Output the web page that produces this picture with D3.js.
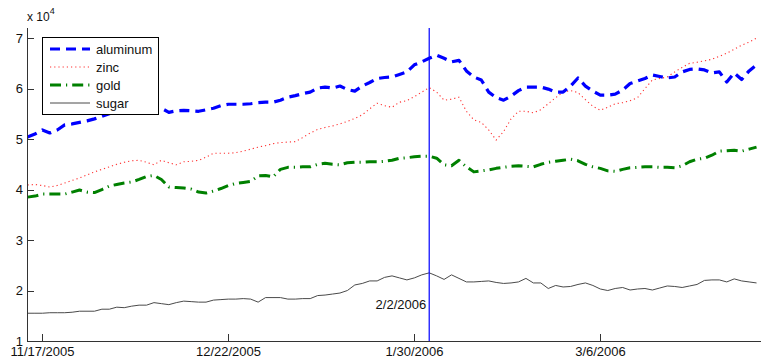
<!DOCTYPE html>
<html><head><meta charset="utf-8">
<script src="https://cdn.jsdelivr.net/npm/d3@7"></script>
<style>
body{margin:0;background:#fff;}
svg{display:block;font-family:"Liberation Sans",Arial,Helvetica,sans-serif;}
</style></head>
<body>
<svg id="chart" width="761" height="358"></svg>
<script>
// values in units of 10^4, one per trading day (index 0..98)
const aluminum = [5.04,5.10,5.18,5.12,5.18,5.28,5.30,5.33,5.36,5.40,5.45,5.50,5.55,5.60,5.62,5.64,5.65,5.63,5.61,5.53,
 5.56,5.57,5.56,5.55,5.58,5.61,5.66,5.69,5.69,5.69,5.70,5.72,5.73,5.73,5.77,5.83,5.86,5.90,5.93,6.01,
 6.03,6.01,6.05,5.98,5.95,6.05,6.12,6.20,6.22,6.23,6.28,6.33,6.47,6.53,6.60,6.66,6.60,6.53,6.56,6.35,
 6.23,6.17,5.93,5.82,5.77,5.85,5.96,6.03,6.03,6.03,5.99,5.93,5.93,6.05,6.21,6.05,5.95,5.87,5.87,5.89,
 5.97,6.10,6.15,6.20,6.27,6.24,6.21,6.23,6.33,6.38,6.39,6.37,6.31,6.33,6.13,6.31,6.18,6.35,6.47];
const zinc = [4.09,4.10,4.08,4.05,4.08,4.13,4.18,4.23,4.29,4.35,4.40,4.45,4.50,4.54,4.57,4.58,4.54,4.49,4.58,4.53,
 4.49,4.55,4.56,4.58,4.64,4.72,4.72,4.72,4.73,4.76,4.80,4.84,4.87,4.91,4.93,4.94,4.95,5.03,5.12,5.19,
 5.23,5.26,5.30,5.35,5.41,5.48,5.60,5.71,5.66,5.63,5.73,5.76,5.84,5.93,6.02,5.93,5.77,5.79,5.83,5.55,
 5.38,5.33,5.18,4.98,5.15,5.40,5.55,5.55,5.52,5.58,5.70,5.82,5.93,5.96,5.92,5.78,5.65,5.57,5.63,5.70,
 5.72,5.76,5.82,6.00,6.17,6.20,6.23,6.33,6.42,6.50,6.52,6.55,6.58,6.64,6.70,6.78,6.86,6.92,7.00];
const gold = [3.85,3.87,3.91,3.91,3.91,3.91,3.95,3.99,3.95,3.94,4.00,4.07,4.10,4.13,4.15,4.20,4.26,4.28,4.20,4.05,
 4.04,4.03,4.01,3.95,3.93,3.97,4.02,4.08,4.12,4.14,4.16,4.27,4.28,4.25,4.40,4.44,4.44,4.45,4.45,4.50,
 4.52,4.50,4.49,4.53,4.54,4.54,4.55,4.55,4.56,4.58,4.62,4.63,4.65,4.66,4.66,4.62,4.49,4.47,4.58,4.45,
 4.35,4.37,4.39,4.42,4.44,4.46,4.47,4.46,4.45,4.50,4.54,4.56,4.58,4.60,4.57,4.50,4.45,4.42,4.37,4.36,
 4.40,4.43,4.44,4.45,4.45,4.44,4.44,4.43,4.47,4.55,4.60,4.62,4.68,4.76,4.77,4.78,4.76,4.80,4.84];
const sugar = [1.55,1.55,1.55,1.56,1.56,1.56,1.57,1.59,1.59,1.59,1.63,1.63,1.67,1.66,1.69,1.71,1.71,1.76,1.74,1.72,
 1.76,1.79,1.78,1.77,1.77,1.81,1.82,1.83,1.83,1.84,1.83,1.77,1.86,1.86,1.86,1.83,1.83,1.84,1.84,1.90,
 1.91,1.93,1.95,2.00,2.11,2.14,2.19,2.19,2.26,2.29,2.25,2.21,2.25,2.31,2.35,2.29,2.22,2.31,2.24,2.17,
 2.17,2.18,2.19,2.16,2.14,2.15,2.17,2.24,2.15,2.15,2.04,2.10,2.07,2.08,2.12,2.15,2.10,2.03,2.00,2.04,
 2.06,2.01,2.03,2.04,2.01,2.05,2.09,2.08,2.06,2.09,2.12,2.20,2.21,2.21,2.17,2.23,2.19,2.17,2.15];
const seriesNames = ["aluminum","zinc","gold","sugar"];
const tickIndex = [2,27,52,77];
const tickLabels = ["11/17/2005","12/22/2005","1/30/2006","3/6/2006"];
const yTicks = [1,2,3,4,5,6,7];
const markerIndex = 54;
const markerLabel = "2/2/2006";

const svg = d3.select("#chart");
const x = d3.scaleLinear().domain([0, 98.6]).range([27.5, 761]);
const y = d3.scaleLinear().domain([1, 7.2]).range([341, 28]);

const styles = {
  aluminum:{color:"#0000ff", w:3.2, dash:"10,6"},
  zinc:{color:"#ff3030", w:1.1, dash:"1.2,3"},
  gold:{color:"#008000", w:3.0, dash:"11,5,1.2,5"},
  sugar:{color:"#4a4a4a", w:1, dash:null}
};
const data = {aluminum, zinc, gold, sugar};
const line = d3.line().x((d,i)=>x(i)).y(d=>y(d));

// series
seriesNames.slice().reverse().forEach(n=>{
  const s = styles[n];
  svg.append("path").datum(data[n]).attr("d", line)
    .attr("fill","none").attr("stroke", s.color).attr("stroke-width", s.w)
    .attr("stroke-dasharray", s.dash).attr("stroke-linejoin","round");
});

// marker line
svg.append("line").attr("x1", x(markerIndex)).attr("x2", x(markerIndex))
  .attr("y1", y(7.2)).attr("y2", y(1)).attr("stroke","#0000ff").attr("stroke-width",1.2);
svg.append("text").attr("x", x(markerIndex)-3).attr("y", 309).attr("text-anchor","end")
  .attr("font-size",13).attr("fill","#111").text(markerLabel);

// axes
const axCol = "#333";
svg.append("line").attr("x1",27.5).attr("x2",27.5).attr("y1",y(7.2)).attr("y2",341.5).attr("stroke",axCol);
svg.append("line").attr("x1",27).attr("x2",761).attr("y1",341.5).attr("y2",341.5).attr("stroke",axCol);
yTicks.forEach(t=>{
  svg.append("line").attr("x1",27.5).attr("x2",34).attr("y1",Math.round(y(t))+0.5).attr("y2",Math.round(y(t))+0.5).attr("stroke",axCol);
  svg.append("text").attr("x",23).attr("y",y(t)+4.5).attr("text-anchor","end").attr("font-size",13).attr("fill","#111").text(t);
});
tickIndex.forEach((t,i)=>{
  const px = Math.round(x(t))+0.5;
  svg.append("line").attr("x1",px).attr("x2",px).attr("y1",341.5).attr("y2",334).attr("stroke",axCol);
  svg.append("text").attr("x",px).attr("y",356).attr("text-anchor","middle").attr("font-size",13).attr("fill","#111").text(tickLabels[i]);
});
// exponent label
const ex = svg.append("text").attr("x",27).attr("y",21).attr("font-size",12).attr("fill","#111");
ex.append("tspan").text("x 10");
ex.append("tspan").attr("dy",-7).attr("font-size",9).text("4");

// legend
const lg = svg.append("g");
lg.append("rect").attr("x",42.5).attr("y",37.5).attr("width",116).attr("height",77)
  .attr("fill","#fff").attr("stroke","#000").attr("stroke-width",1);
seriesNames.forEach((n,i)=>{
  const s = styles[n];
  const yy = 49 + i*18;
  lg.append("line").attr("x1",50).attr("x2",90).attr("y1",yy).attr("y2",yy)
    .attr("stroke",s.color).attr("stroke-width",s.w).attr("stroke-dasharray",s.dash);
  lg.append("text").attr("x",96).attr("y",yy+4.5).attr("font-size",13).attr("fill","#111").text(n);
});
</script>
</body></html>
